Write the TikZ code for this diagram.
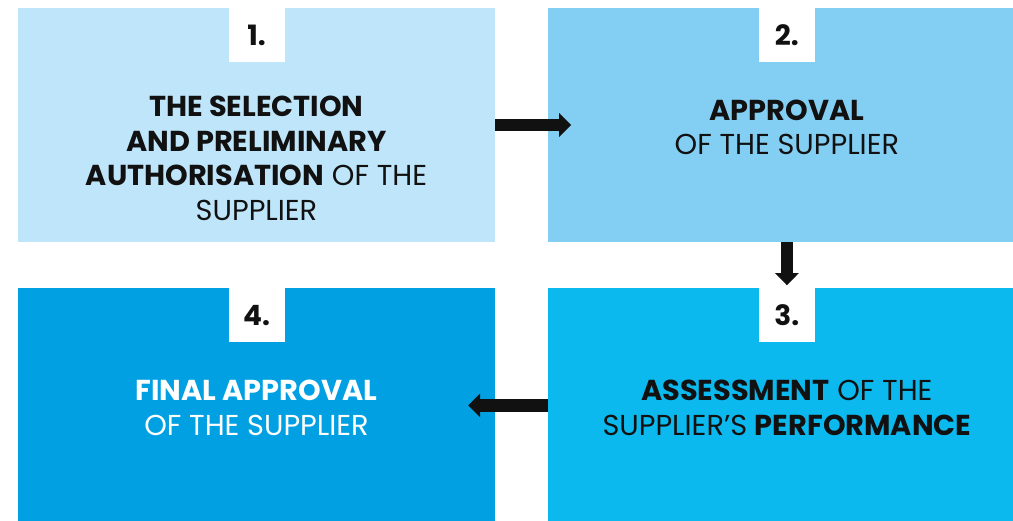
\documentclass[tikz,border=0pt]{standalone}
\usepackage[RGB]{xcolor}
\usepackage{fontspec}
\setmainfont{Poppins}
\usetikzlibrary{arrows.meta,positioning}
\definecolor{A}{RGB}{190,229,249}
\definecolor{B}{RGB}{131,207,243}
\definecolor{C}{RGB}{12,185,238}
\definecolor{D}{RGB}{0,160,226}
\definecolor{ink}{RGB}{17,17,17}
\tikzset{
  stepbox/.style={inner sep=0pt, minimum width=477pt, minimum height=234pt},
  tab/.style={fill=white, anchor=north, inner sep=0pt, minimum width=56pt, minimum height=54pt,
    text=ink, font=\fontsize{28}{28}\selectfont\bfseries},
  steptext/.style={align=center, inner sep=0pt, text=ink, font=\fontsize{28.8}{34.5}\selectfont},
  flow/.style={ink, line width=12.5pt, -{Triangle[length=12pt,width=23pt]}}
}
\newcommand{\tabnumber}[2]{\node[tab] (t#1) at (s#1.north) {#2};}

\begin{document}
\begin{tikzpicture}[x=1pt, y=-1pt]
\useasboundingbox (0,0) rectangle (1013,520);
\clip (0,0) rectangle (1013,520);
% the four steps
\node[stepbox, fill=A] (s1) at (256.5,125) {};
\node[stepbox, fill=B, right=53pt of s1] (s2) {};
\node[stepbox, fill=C, below=46pt of s2] (s3) {};
\node[stepbox, fill=D, below=46pt of s1] (s4) {};
\tabnumber{1}{1.}\tabnumber{2}{2.}\tabnumber{3}{3.}\tabnumber{4}{4.}
\node[steptext] (l1) at ([yshift=-33.5pt]s1.center)
  {\textbf{THE SELECTION}\\\textbf{AND PRELIMINARY}\\\textbf{AUTHORISATION} OF THE\\SUPPLIER};
\node[steptext] (l2) at ([yshift=-2.5pt]s2.center) {\textbf{APPROVAL}\\OF THE SUPPLIER};
\node[steptext] (l3) at ([yshift=-2.5pt]s3.center)
  {\textbf{ASSESSMENT} OF THE\\SUPPLIER’S \textbf{PERFORMANCE}};
\node[steptext, text=white] (l4) at ([yshift=-2.5pt]s4.center) {\textbf{FINAL APPROVAL}\\OF THE SUPPLIER};
% arrows
\draw[flow] (s1.east) -- ([xshift=23pt]s2.west);
\draw[flow] (s2.south) -- ([yshift=3pt]s3.north);
\draw[flow] (s3.west) -- ([xshift=-27pt]s4.east);
\end{tikzpicture}
\end{document}
